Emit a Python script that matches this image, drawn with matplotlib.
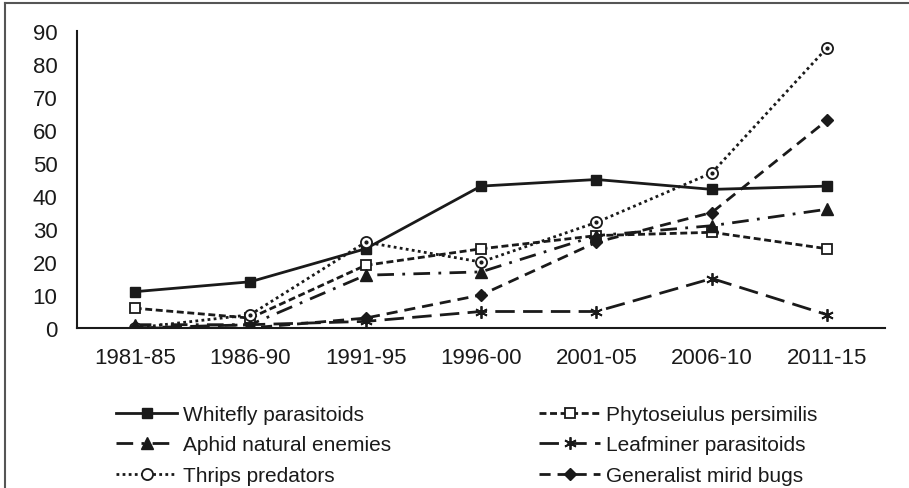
import numpy as np
import matplotlib
matplotlib.use('Agg')
import matplotlib.pyplot as plt
from matplotlib.lines import Line2D

plt.rcParams['font.family'] = ['Liberation Sans', 'DejaVu Sans']

periods = ['1981-85', '1986-90', '1991-95', '1996-00', '2001-05', '2006-10', '2011-15']
whitefly = [11, 14, 24, 43, 45, 42, 43]
phytoseiulus = [6, 3, 19, 24, 28, 29, 24]
aphid = [1, 1, 16, 17, 28, 31, 36]
leafminer = [0, 1, 2, 5, 5, 15, 4]
thrips = [0, 4, 26, 20, 32, 47, 85]
mirid = [0, 0, 3, 10, 26, 35, 63]

k = '#1a1a1a'
x = np.arange(len(periods))

fig = plt.figure(figsize=(9.09, 4.89), dpi=100)
ax = fig.add_axes([77/909, 1-329/489, (885-77)/909, (329-32)/489])

ms = 7.5
h1, = ax.plot(x, whitefly, color=k, lw=2, ls='-', marker='s', ms=ms, mfc=k, mec=k)
h2, = ax.plot(x, phytoseiulus, color=k, lw=2, ls=(0, (2.5, 1.3)), marker='s', ms=ms, mfc='white', mec=k, mew=1.3)
h3, = ax.plot(x, aphid, color=k, lw=2, ls=(0, (6, 3, 1, 3)), marker='^', ms=ms+0.5, mfc=k, mec=k)
h4, = ax.plot(x, leafminer, color=k, lw=2, ls=(0, (7, 3)), marker=(6, 2, 0), ms=ms+1.5, mec=k, mew=1.3)
h5, = ax.plot(x, thrips, color=k, lw=2, ls=(0, (1, 1.2)), marker='o', ms=ms+0.5, mfc='white', mec=k, mew=1.3)
ax.plot(x, thrips, ls='none', marker='o', ms=2, color=k)
h6, = ax.plot(x, mirid, color=k, lw=2, ls=(0, (4, 2.5)), marker='D', ms=ms-1, mfc=k, mec=k)

ax.set_xlim(-0.5, 6.5)
ax.set_ylim(0, 90)
ax.set_yticks(range(0, 91, 10))
ax.set_xticks(x)
ax.set_xticklabels(periods)
ax.tick_params(axis='both', length=0, labelsize=16, colors=k)
ax.tick_params(axis='x', pad=14)
ax.tick_params(axis='y', pad=14)
for s in ['top', 'right']:
    ax.spines[s].set_visible(False)
ax.spines['left'].set_linewidth(1.5)
ax.spines['bottom'].set_linewidth(1.5)
ax.spines['left'].set_color(k)
ax.spines['bottom'].set_color(k)

handles = [h1, h3, h5, h2, h4, h6]
labels = ['Whitefly parasitoids', 'Aphid natural enemies', 'Thrips predators',
          'Phytoseiulus persimilis', 'Leafminer parasitoids', 'Generalist mirid bugs']
fig.legend(handles, labels, ncol=2, loc='upper left', bbox_to_anchor=(116/909, 1-406/489),
           frameon=False, fontsize=15, handlelength=2.93, handletextpad=0.29,
           labelspacing=0.55, columnspacing=7.1, borderpad=0, borderaxespad=0,
           labelcolor=k)

# figure border (top and left visible)
fig.add_artist(Line2D([5/909, 5/909], [0, 1-4/489], color='#555555', lw=1.5, transform=fig.transFigure))
fig.add_artist(Line2D([5/909, 1], [1-4/489, 1-4/489], color='#555555', lw=1.5, transform=fig.transFigure))

fig.savefig('out.png', dpi=100)
